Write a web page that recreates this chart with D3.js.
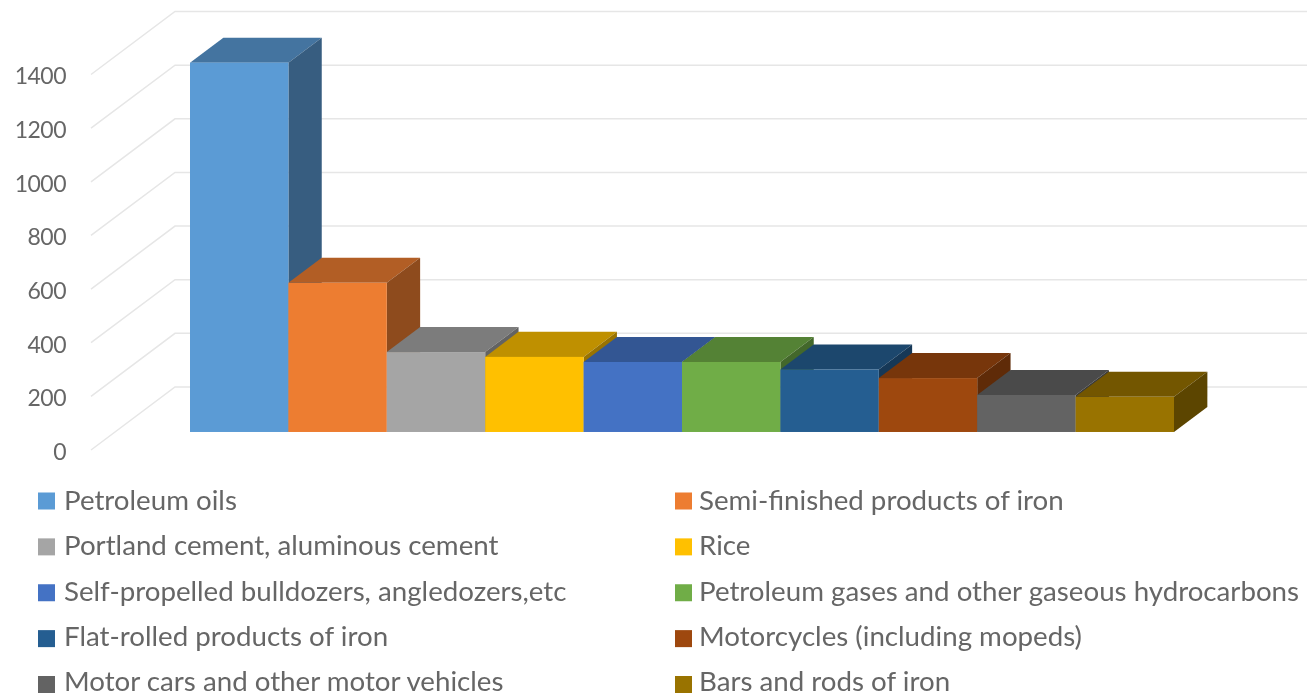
<!DOCTYPE html>
<html>
<head>
<meta charset="utf-8">
<script src="https://d3js.org/d3.v7.min.js"></script>
<style>
    body { margin: 0; background: #fff; }
    svg { display: block; filter: blur(0.6px); }
    text { font-family: Lato, "Open Sans", sans-serif; fill: #666; }
</style>
</head>
<body>
<div id="chart"></div>
<script>
// values
let categories = ['Petroleum oils', 'Semi-finished products of iron', 'Portland cement, aluminous cement', 'Rice',
    'Self-propelled bulldozers, angledozers,etc', 'Petroleum gases and other gaseous hydrocarbons',
    'Flat-rolled products of iron', 'Motorcycles (including mopeds)', 'Motor cars and other motor vehicles', 'Bars and rods of iron'];
let values = [1377, 556, 298, 280, 261, 261, 233, 201, 138, 131];
let colors = ['#5b9bd5', '#ed7d31', '#a5a5a5', '#ffc000', '#4472c4', '#70ad47', '#255e91', '#9e480e', '#636363', '#997300'];
let tickValues = [0, 200, 400, 600, 800, 1000, 1200, 1400];

let svgWidth = 1307;
let svgHeight = 697;

// the floor runs from the front edge to the back wall, depth is 0..1
let wall = { dx: 84, dy: 63, left: 91 };
let barDepth = { front: 0.286, back: 0.683 };

let svg = d3.select('#chart')
    .append('svg')
    .attr('width', svgWidth)
    .attr('height', svgHeight);

let yScale = d3.scaleLinear().domain([0, 1400]).range([450, 74.5]);
let xScale = d3.scaleBand().domain(categories).range([190, 1174]);

// bar positions are given on the front plane of the bars
let px = (x, depth) => x + (depth - barDepth.front) * wall.dx;
let py = (v, depth) => yScale(v) - depth * wall.dy;

function shade(color, k) {
    let c = d3.rgb(color);
    return d3.rgb(c.r * k, c.g * k, c.b * k).formatHex();
}

// side wall and back wall gridlines
svg.append('g').selectAll('path')
    .data(tickValues)
    .enter()
    .append('path')
    .attr('fill', 'none')
    .attr('stroke', '#e6e6e6')
    .attr('stroke-width', 1.5)
    .attr('d', d => d3.line()([
        [wall.left, yScale(d)],
        [wall.left + wall.dx, yScale(d) - wall.dy],
        [svgWidth, yScale(d) - wall.dy]
    ]));

// y axis labels
let yAxis = d3.axisLeft(yScale).tickValues(tickValues).tickFormat(d3.format('d')).tickSize(0).tickPadding(0);
svg.append('g')
    .attr('transform', 'translate(66,2)')
    .call(yAxis)
    .call(g => g.select('.domain').remove())
    .selectAll('text')
    .attr('font-size', 23)
    .attr('letter-spacing', -0.5)
    .style('font-family', 'Lato, "Open Sans", sans-serif')
    .style('fill', '#666');

// 3D bars, left to right so each one covers the side of the one before
let bars = svg.append('g').selectAll('g')
    .data(categories)
    .enter()
    .append('g');

let poly = pts => pts.map(p => p.join(',')).join(' ');
let x0 = d => xScale(d);
let x1 = d => xScale(d) + xScale.bandwidth();
let val = (d, i) => values[i];
let f = barDepth.front;
let b = barDepth.back;

bars.append('polygon')
    .attr('fill', (d, i) => shade(colors[i], 0.75))
    .attr('points', (d, i) => poly([
        [x0(d), py(val(d, i), f)], [x1(d), py(val(d, i), f)],
        [px(x1(d), b), py(val(d, i), b)], [px(x0(d), b), py(val(d, i), b)]
    ]));

bars.append('polygon')
    .attr('fill', (d, i) => shade(colors[i], 0.6))
    .attr('points', (d, i) => poly([
        [x1(d), py(0, f)], [x1(d), py(val(d, i), f)],
        [px(x1(d), b), py(val(d, i), b)], [px(x1(d), b), py(0, b)]
    ]));

bars.append('rect')
    .attr('x', d => x0(d))
    .attr('y', (d, i) => py(val(d, i), f))
    .attr('width', xScale.bandwidth())
    .attr('height', (d, i) => py(0, f) - py(val(d, i), f))
    .attr('fill', (d, i) => colors[i]);

// legend, two columns
let swatchRow = d3.scalePoint().domain(d3.range(5)).range([501, 684.5]);
let textRow = d3.scalePoint().domain(d3.range(5)).range([510, 691]);
let legendCol = [38, 675];

let legend = svg.append('g').selectAll('g')
    .data(categories)
    .enter()
    .append('g');

legend.append('rect')
    .attr('x', (d, i) => legendCol[i % 2])
    .attr('y', (d, i) => swatchRow(Math.floor(i / 2)) - 8.5)
    .attr('width', 17)
    .attr('height', 17)
    .attr('fill', (d, i) => colors[i]);

legend.append('text')
    .attr('x', (d, i) => legendCol[i % 2] + (i % 2 ? 24 : 26))
    .attr('y', (d, i) => textRow(Math.floor(i / 2)))
    .attr('font-size', 27.7)
    .text(d => d);
</script>
</body>
</html>
